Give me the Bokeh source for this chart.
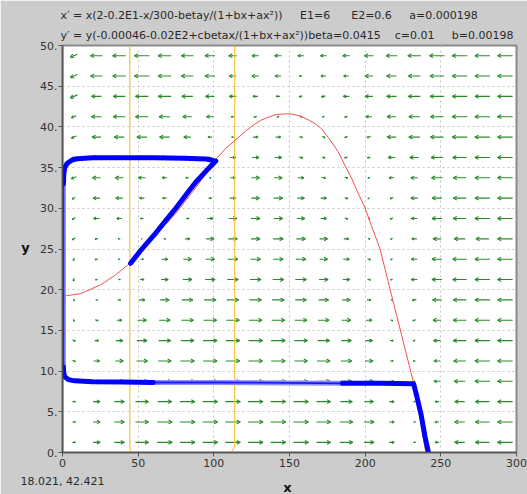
import math
from bokeh.plotting import figure
from bokeh.models import Label, FixedTicker, Title
from bokeh.core.properties import value
from bokeh.core.property.dataspec import DataSpec
from bokeh.embed import file_html
from bokeh.resources import INLINE

# ---------------- data ----------------
x_ticks = [0, 50, 100, 150, 200, 250, 300]
y_ticks = [0, 5, 10, 15, 20, 25, 30, 35, 40, 45, 50]
x_tick_labels = ["0", "50", "100", "150", "200", "250", "300"]
y_tick_labels = ["0.", "5.", "10.", "15.", "20.", "25.", "30.", "35.", "40.", "45.", "50."]

header_line1 = ["x\u2032 = x(2-0.2E1-x/300-betay/(1+bx+ax\u00b2))", "E1=6", "E2=0.6", "a=0.000198"]
header_line2 = ["y\u2032 = y(-0.00046-0.02E2+cbetax/(1+bx+ax\u00b2))", "beta=0.0415", "c=0.01", "b=0.00198"]
coords_text = "18.021,  42.421"
x_name, y_name = "x", "y"

field_x = [7.5, 22.5, 37.5, 52.5, 67.5, 82.5, 97.5, 112.5, 127.5, 142.5,
           157.5, 172.5, 187.5, 202.5, 217.5, 232.5, 247.5, 262.5, 277.5, 292.5]
field_y = [48.75, 46.25, 43.75, 41.25, 38.75, 36.25, 33.75, 31.25, 28.75, 26.25,
           23.75, 21.25, 18.75, 16.25, 13.75, 11.25, 8.75, 6.25, 3.75, 1.25]
field_u = [
    [-7, -12, -13, -15, -13, -12, -10, -8, -7, -7, -6, -6, -7, -9, -11, -13, -15, -15, -15, -15],
    [-7, -12, -13, -15, -13, -12, -10, -7, -7, -6, -3, -5, -5, -8, -10, -12, -14, -15, -15, -15],
    [-7, -10, -12, -13, -13, -11, -9, -7, -5, -4, -3, -4, -6, -8, -10, -12, -14, -15, -15, -15],
    [-5, -10, -12, -13, -11, -9, -7, -3, -3, -2, 2, -2, -3, -6, -9, -11, -13, -15, -15, -15],
    [-5, -9, -10, -10, -10, -7, -4, -2, 5, 5, 3, 3, -3, -4, -9, -11, -13, -15, -15, -15],
    [-4, -9, -10, -10, -9, -6, -3, 6, 7, 7, 4, 3, -3, -3, -7, -9, -12, -14, -15, -15],
    [-5, -8, -8, -7, -5, -3, 2, 5, 8, 8, 6, 4, 3, -2, -5, -7, -11, -13, -15, -15],
    [-3, -7, -7, -5, -4, -1, 3, 6, 8, 9, 7, 6, 3, -2, -3, -7, -10, -13, -15, -15],
    [-3, -6, -5, -3, -1, 3, 6, 8, 9, 9, 8, 6, 3, 2, -3, -6, -10, -13, -15, -15],
    [-3, -3, -2, -1, 2, 5, 8, 9, 9, 10, 9, 8, 5, 2, -2, -5, -8, -11, -13, -15],
    [-1, -3, -2, 3, 6, 8, 9, 10, 10, 10, 10, 8, 6, 3, -2, -6, -10, -14, -15, -15],
    [-1, -2, 2, 4, 7, 9, 10, 11, 11, 11, 11, 9, 7, 3, -2, -6, -10, -14, -15, -15],
    [1, 2, 3, 6, 9, 11, 12, 12, 12, 12, 11, 10, 8, 4, 2, -4, -9, -13, -15, -15],
    [1, 3, 5, 9, 11, 12, 13, 13, 13, 13, 12, 11, 9, 6, 2, -3, -8, -13, -15, -15],
    [3, 4, 7, 10, 12, 13, 14, 14, 14, 14, 13, 12, 10, 7, 3, -2, -7, -13, -15, -15],
    [3, 6, 8, 11, 13, 14, 14, 14, 14, 14, 13, 13, 11, 8, 3, -2, -6, -12, -15, -15],
    [3, 7, 9, 12, 14, 15, 15, 15, 15, 15, 14, 13, 11, 9, 4, 1, -6, -11, -15, -15],
    [3, 7, 10, 13, 14, 15, 15, 15, 15, 15, 15, 14, 12, 9, 5, 2, -4, -10, -14, -15],
    [3, 7, 10, 13, 15, 15, 15, 15, 15, 15, 15, 14, 13, 10, 5, 2, -4, -10, -14, -15],
    [3, 7, 10, 13, 15, 15, 15, 15, 15, 15, 15, 14, 13, 10, 5, 2, -4, -10, -14, -15],
]
field_v = [
    [-3, 0, 0, 0, 0, 0, 0, 0, 0, 0, 0, 0, 0, 0, 0, 0, 0, 0, 0, 0],
    [-3, 0, 0, 0, 0, 0, 0, 0, 0, 0, 0, 0, 0, 0, 0, 0, 0, 0, 0, 0],
    [-3, 0, 0, 0, 0, 0, 0, 0, 0, 0, -1, -1, 0, 0, 0, 0, 0, 0, 0, 0],
    [-2, 0, 0, 0, 0, 0, 0, 0, -1, -1, -1, -1, -1, 0, 0, 0, 0, 0, 0, 0],
    [-2, 0, 0, 0, 0, 0, 0, 0, 0, 0, -1, -1, -1, -1, 0, 0, 0, 0, 0, 0],
    [-2, 0, 0, 0, 0, 0, 0, 0, 0, 0, -1, -1, -1, -1, 0, 0, 0, 0, 0, 0],
    [-2, 0, 0, 0, 0, 0, 0, 0, 0, 0, 0, -1, -1, -1, 0, 0, 0, 0, 0, 0],
    [-2, 0, 0, 0, 0, 0, 0, 0, 0, 0, 0, 0, -1, -1, -1, 0, 0, 0, 0, 0],
    [-2, 0, 0, 0, 0, 0, 0, 0, 0, 0, 0, 0, -1, -1, -1, 0, 0, 0, 0, 0],
    [-2, -1, 0, 0, 0, 0, 0, 0, 0, 0, 0, 0, 0, -1, -1, 0, 0, 0, 0, 0],
    [-3, -1, 0, 0, 0, 0, 0, 0, 0, 0, 0, 0, 0, -1, -1, 0, 0, 0, 0, 0],
    [-3, -1, 0, 0, 0, 0, 0, 0, 0, 0, 0, 0, 0, -1, -1, 0, 0, 0, 0, 0],
    [-2, -1, 0, 0, 0, 0, 0, 0, 0, 0, 0, 0, 0, 0, -1, -1, 0, 0, 0, 0],
    [-2, -1, 0, 0, 0, 0, 0, 0, 0, 0, 0, 0, 0, 0, -1, -1, 0, 0, 0, 0],
    [-1, 0, 0, 0, 0, 0, 0, 0, 0, 0, 0, 0, 0, 0, 0, -1, 0, 0, 0, 0],
    [-1, 0, 0, 0, 0, 0, 0, 0, 0, 0, 0, 0, 0, 0, 0, -1, 0, 0, 0, 0],
    [0, 0, 0, 0, 0, 0, 0, 0, 0, 0, 0, 0, 0, 0, 0, 0, 0, 0, 0, 0],
    [0, 0, 0, 0, 0, 0, 0, 0, 0, 0, 0, 0, 0, 0, 0, 0, 0, 0, 0, 0],
    [0, 0, 0, 0, 0, 0, 0, 0, 0, 0, 0, 0, 0, 0, 0, 0, 0, 0, 0, 0],
    [0, 0, 0, 0, 0, 0, 0, 0, 0, 0, 0, 0, 0, 0, 0, 0, 0, 0, 0, 0],
]

# x-nullcline (red curve)
red_x = [0, 11.9, 25.2, 35, 45, 60, 75, 90, 101.3, 108, 115.7, 121, 126, 131, 136, 141, 146,
         151, 157.8, 163, 167, 171, 176, 182, 186, 191, 195, 199.8, 204, 209.7, 215.2,
         220.7, 226.3, 231.8, 236, 240]
red_y = [19.2, 19.5, 20.6, 21.8, 23.3, 26.4, 29.4, 33.0, 36.0, 37.4, 38.6, 39.5, 40.2, 40.8,
         41.2, 41.5, 41.6, 41.6, 41.3, 40.8, 40.4, 39.8, 38.6, 37.0, 35.5, 33.7, 32.0, 30.1,
         27.9, 25.1, 21.0, 16.9, 12.8, 8.7, 4.5, 0.0]
red_axis_x = [0, 0]
red_axis_y = [0, 50]

# y-nullclines (yellow)
yel1_x = [44.5, 44.5, 45.2]
yel1_y = [50, 0.8, 0]
yel2_x = [113.8, 113.8, 111.5]
yel2_y = [50, 0.7, 0]

# trajectory (blue), pieces
trajA_x = [45.0, 52, 60, 67, 74, 81, 88, 95, 101.3, 95, 80, 60, 40, 20, 10, 6, 3, 1.5, 0.9, 0.6]
trajA_y = [23.25, 24.9, 26.6, 28.2, 29.8, 31.5, 33.2, 34.6, 35.8, 36.05, 36.15, 36.2, 36.2, 36.2,
           36.1, 35.9, 35.5, 35.0, 34.3, 33.0]
trajB_x = [0.6, 0.6]
trajB_y = [33.0, 10.5]
trajC_x = [0.6, 0.8, 1.5, 4, 8, 20, 40, 60]
trajC_y = [10.5, 9.8, 9.3, 8.95, 8.8, 8.7, 8.65, 8.6]
trajD_x = [60, 100, 150, 185]
trajD_y = [8.6, 8.6, 8.55, 8.5]
trajE_x = [185, 210, 232, 234, 237, 239.5, 241.7]
trajE_y = [8.5, 8.5, 8.45, 7.0, 4.6, 2.0, 0.1]

# ---------------- figure ----------------
W, H = 527, 494
ML, MR, MT, MB = 62, 11, 45, 42
FW, FH = W - ML - MR, H - MT - MB
XMAX, YMAX = 300, 50
kx, ky = FW / XMAX, FH / YMAX
FONT = "DejaVu Sans"
GREY = "#cccccc"

p = figure(width=W, height=H, x_range=(0, XMAX), y_range=(0, YMAX),
           output_backend="svg", toolbar_location=None,
           min_border_left=ML, min_border_right=MR, min_border_top=MT, min_border_bottom=MB)
p.background_fill_color = "white"
p.border_fill_color = GREY
p.outline_line_color = "#8a8a8a"
p.outline_line_width = 2

for ax in (p.xaxis[0], p.yaxis[0]):
    ax.axis_line_color = "#555555"
    ax.axis_line_width = 1.5
    ax.major_tick_line_color = "#555555"
    ax.major_tick_out = 4
    ax.major_tick_in = 0
    ax.minor_tick_line_color = None
    ax.major_label_text_font = FONT
    ax.major_label_text_font_size = "11px"
    ax.major_label_text_color = "#333333"
p.xaxis.ticker = FixedTicker(ticks=x_ticks)
p.yaxis.ticker = FixedTicker(ticks=y_ticks)
p.xaxis.major_label_overrides = {t: s for t, s in zip(x_ticks, x_tick_labels)}
p.yaxis.major_label_overrides = {t: s for t, s in zip(y_ticks, y_tick_labels)}
p.xaxis.major_label_standoff = 2
p.yaxis.major_label_standoff = 1

for g in (p.xgrid[0], p.ygrid[0]):
    g.grid_line_color = "#c4c4c4"
    g.grid_line_dash = "2 3"
    g.grid_line_width = 1
p.xgrid.ticker = FixedTicker(ticks=x_ticks)
p.ygrid.ticker = FixedTicker(ticks=y_ticks)

# direction field arrows
shaft_xs, shaft_ys = [], []
ang = math.radians(28)
for r, yc in enumerate(field_y):
    for c, xc in enumerate(field_x):
        u = field_u[r][c]
        v = field_v[r][c]
        L = math.hypot(u, v)
        if L == 0:
            continue
        tx, ty = xc - 0.5 * u / kx, yc - 0.5 * v / ky
        hx, hy = xc + 0.5 * u / kx, yc + 0.5 * v / ky
        shaft_xs.append([tx, hx])
        shaft_ys.append([ty, hy])
        ux, uy = u / L, v / L
        h = min(4.0, 0.5 * L)
        wx, wy = [], []
        for s in (1, -1):
            ca, sa = math.cos(s * ang), math.sin(s * ang)
            bx = -(ux * ca - uy * sa)
            by = -(ux * sa + uy * ca)
            wx.append(hx + h * bx / kx)
            wy.append(hy + h * by / ky)
        shaft_xs.append([wx[0], hx, wx[1]])
        shaft_ys.append([wy[0], hy, wy[1]])
p.multi_line(shaft_xs, shaft_ys, line_color="#2a8c2a", line_width=1.1)

# nullclines
p.line(yel1_x, yel1_y, line_color="#f6c232", line_width=1.2)
p.line(yel2_x, yel2_y, line_color="#f6c232", line_width=1.2)
p.line(red_axis_x, red_axis_y, line_color="#ff7a7a", line_width=2)
p.line(red_x, red_y, line_color="#f25050", line_width=1)

# trajectory
for xs, ys in ((trajB_x, trajB_y), (trajD_x, trajD_y)):
    p.line(xs, ys, line_color="#8e8eff", line_width=5)
    p.line(xs, ys, line_color="#1a1aff", line_width=1.8)
for xs, ys in ((trajA_x, trajA_y), (trajC_x, trajC_y), (trajE_x, trajE_y)):
    p.line(xs, ys, line_color="#0000ff", line_width=5, line_cap="round", line_join="round")

# header lines as titles (no-break spaces place the parameter texts)
NB = "\u00a0"
line1 = header_line1[0] + NB * 5 + header_line1[1] + NB * 6 + header_line1[2] + NB * 5 + header_line1[3]
line2 = header_line2[0] + header_line2[1] + NB * 4 + header_line2[2] + NB * 5 + header_line2[3]
for txt, so in ((line2, 7), (line1, 3)):
    p.add_layout(Title(text=txt, align="left", offset=-2, standoff=so,
                       text_font=FONT, text_font_size="11px", text_font_style="normal",
                       text_color="#2a2a2a"), "above")

# cursor read-out under the x axis, as a title row
p.add_layout(Title(text=coords_text, align="left", offset=-42, standoff=6,
                   text_font=FONT, text_font_size="11px", text_font_style="normal",
                   text_color="#2a2a2a"), "below")

# axis names as side-panel labels, positioned in canvas pixels
_font_prop = Label.lookup("text_font").property
lab_font = value(FONT) if isinstance(_font_prop, DataSpec) else FONT

def side_label(txt, px, py, place, size="13px", style="bold", align="center", color="#111111"):
    p.add_layout(Label(x=px, y=py, x_units="canvas", y_units="canvas", text=txt,
                       text_font=lab_font, text_font_size=size, text_font_style=style,
                       text_color=color, text_baseline="middle", text_align=align), place)

side_label(y_name, 25, 247, "left")
side_label(x_name, 287, 487, "left")

open("out.html", "w").write(file_html(p, INLINE))
